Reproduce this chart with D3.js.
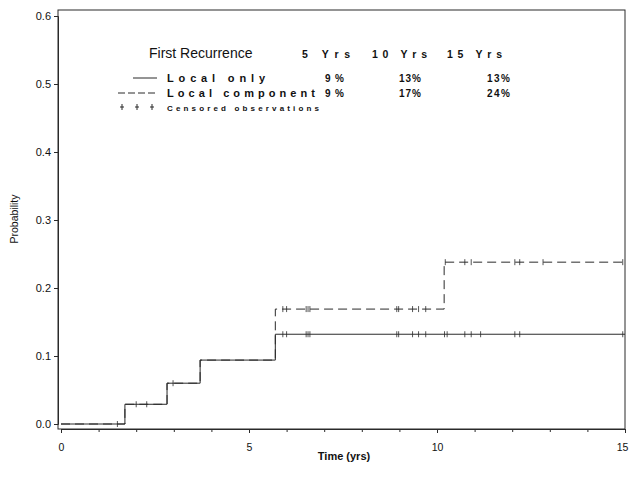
<!DOCTYPE html>
<html><head><meta charset="utf-8">
<script src="https://cdn.jsdelivr.net/npm/d3@7"></script>
<style>body{margin:0;background:#fff}svg{display:block}text{font-family:"Liberation Sans",Arial,sans-serif;fill:#111}</style>
</head><body><svg id="c" width="629" height="481"></svg>
<script>
// Kaplan-Meier step data
const localOnlyTimes = [0, 1.70, 2.82, 3.70, 5.70, 15];
const localOnlyProb  = [0, 0.029, 0.060, 0.094, 0.132, 0.132];
const localCompTimes = [0, 1.70, 2.82, 3.70, 5.70, 10.19, 15];
const localCompProb  = [0, 0.029, 0.060, 0.094, 0.169, 0.238, 0.238];
// censored observations (years)
const localOnlyCensor = [1.5, 2.0, 2.28, 2.98, 5.9, 6.0, 6.52, 6.57, 6.62, 8.93, 8.98, 9.35, 9.51, 9.7, 10.2, 10.27, 10.74, 10.91, 11.16, 12.07, 12.2, 14.94];
const localCompCensor = [5.9, 6.0, 6.52, 6.57, 6.62, 8.93, 8.98, 9.35, 9.51, 9.7, 10.22, 10.74, 10.91, 12.07, 12.2, 12.82, 14.94];
// tick labels
const xTicks = [0, 5, 10, 15];
const xMinor = [0,1,2,3,4,5,6,7,8,9,10,11,12,13,14,15];
const yTicks = [0, 0.1, 0.2, 0.3, 0.4, 0.5, 0.6];
// legend table
const legendTitle = "First Recurrence";
const yearHeads = ["5 Yrs", "10 Yrs", "15 Yrs"];
const seriesNames = ["Local only", "Local component"];
const rates = [["9%", "13%", "13%"], ["9%", "17%", "24%"]];
const censorLabel = "Censored observations";

const svg = d3.select("#c");
const x = d3.scaleLinear().domain([0, 15]).range([61, 625]);
const y = d3.scaleLinear().domain([0, 0.6]).range([424, 16]);
const ink = "#2a2a2a";

// frame
svg.append("rect").attr("x", 58).attr("y", 10).attr("width", 567).attr("height", 419)
  .attr("fill", "none").attr("stroke", ink).attr("stroke-width", 1);

// axes
const yAxis = d3.axisLeft(y).tickValues(yTicks).tickFormat(d3.format(".1f")).tickSize(4).tickPadding(3);
const gy = svg.append("g").attr("transform", "translate(58,0)").call(yAxis);
const xAxisMinor = d3.axisBottom(x).tickValues(xMinor).tickFormat("").tickSize(3);
const gxm = svg.append("g").attr("transform", "translate(0,429)").call(xAxisMinor);
const xAxis = d3.axisBottom(x).tickValues(xTicks).tickFormat(d3.format("d")).tickSize(4).tickPadding(11);
const gx = svg.append("g").attr("transform", "translate(0,429)").call(xAxis);
[gy, gx, gxm].forEach(g => {
  g.select(".domain").attr("stroke", ink);
  g.selectAll(".tick line").attr("stroke", ink);
  g.selectAll(".tick text").attr("font-size", 11).attr("fill", "#111")
    .attr("font-family", '"Liberation Sans",Arial,sans-serif');
});
gx.selectAll(".tick text").attr("font-size", 10.5)
  .attr("dx", d => d === 15 ? -3 : 0);

// axis titles
svg.append("text").attr("transform", "translate(18,219) rotate(-90)")
  .attr("text-anchor", "middle").attr("font-size", 10.5).text("Probability");
svg.append("text").attr("x", 344).attr("y", 460).attr("text-anchor", "middle")
  .attr("font-size", 11).attr("font-weight", "bold").text("Time (yrs)");

// curves
const line = d3.line().x(d => x(d[0])).y(d => y(d[1])).curve(d3.curveStepAfter);
const compPts = localCompTimes.map((t, i) => [t, localCompProb[i]]);
const onlyPts = localOnlyTimes.map((t, i) => [t, localOnlyProb[i]]);
svg.append("path").attr("d", line(compPts)).attr("fill", "none").attr("stroke", ink)
  .attr("stroke-width", 1).attr("stroke-dasharray", "9,5");
svg.append("path").attr("d", line(onlyPts)).attr("fill", "none").attr("stroke", ink)
  .attr("stroke-width", 1);

function stepVal(times, probs, t) {
  let v = probs[0];
  for (let i = 0; i < times.length; i++) if (times[i] <= t) v = probs[i];
  return v;
}
function censor(list, times, probs) {
  svg.append("g").selectAll("line").data(list).join("line")
    .attr("x1", d => x(d)).attr("x2", d => x(d))
    .attr("y1", d => y(stepVal(times, probs, d)) - 3)
    .attr("y2", d => y(stepVal(times, probs, d)) + 3)
    .attr("stroke", ink).attr("stroke-width", 0.8);
}
censor(localOnlyCensor, localOnlyTimes, localOnlyProb);
censor(localCompCensor, localCompTimes, localCompProb);

// legend
svg.append("text").attr("x", 149).attr("y", 58).attr("font-size", 14).text(legendTitle);
const headX = [302, 372, 447], headW = [48, 55, 55];
yearHeads.forEach((h, i) => {
  svg.append("text").attr("x", headX[i]).attr("y", 58).attr("font-size", 10.5).attr("font-weight", "bold")
    .attr("textLength", headW[i]).attr("lengthAdjust", "spacing").text(h);
});
const rowY = [82, 97], nameW = [98, 148];
const rateX = [325, 399, 487], rateW = [19, 22, 23];
seriesNames.forEach((n, r) => {
  svg.append("text").attr("x", 167).attr("y", rowY[r]).attr("font-size", 11).attr("font-weight", "bold")
    .attr("textLength", nameW[r]).attr("lengthAdjust", "spacing").text(n);
  rates[r].forEach((v, i) => {
    svg.append("text").attr("x", rateX[i]).attr("y", rowY[r]).attr("font-size", 10).attr("font-weight", "bold")
      .attr("textLength", rateW[i]).attr("lengthAdjust", "spacing").text(v);
  });
});
svg.append("line").attr("x1", 133).attr("x2", 157).attr("y1", 78).attr("y2", 78).attr("stroke", ink);
svg.append("line").attr("x1", 118).attr("x2", 157).attr("y1", 93).attr("y2", 93).attr("stroke", ink)
  .attr("stroke-dasharray", "7,3");
[122, 137, 152].forEach(px => {
  svg.append("line").attr("x1", px).attr("x2", px).attr("y1", 104).attr("y2", 110).attr("stroke", ink);
  svg.append("line").attr("x1", px - 2).attr("x2", px + 2).attr("y1", 107).attr("y2", 107).attr("stroke", ink);
});
svg.append("text").attr("x", 167).attr("y", 110.5).attr("font-size", 8).attr("font-weight", "bold")
  .attr("textLength", 152).attr("lengthAdjust", "spacing").text(censorLabel);
</script></body></html>
